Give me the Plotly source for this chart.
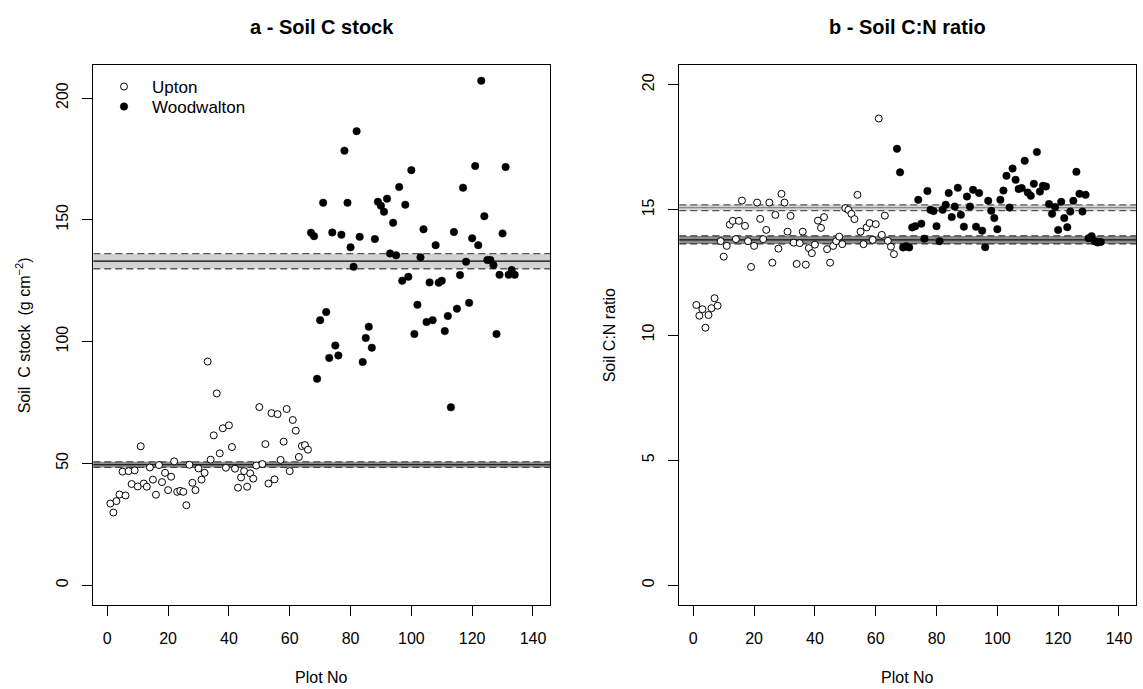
import plotly.graph_objects as go

# ---------------- data ----------------
plot_upton = [1, 2, 3, 4, 5, 6, 7, 8, 9, 10, 11, 12, 13, 14, 15, 16, 17, 18, 19, 20,
              21, 22, 23, 24, 25, 26, 27, 28, 29, 30, 31, 32, 33, 34, 35, 36, 37, 38, 39, 40,
              41, 42, 43, 44, 45, 46, 47, 48, 49, 50, 51, 52, 53, 54, 55, 56, 57, 58, 59, 60,
              61, 62, 63, 64, 65, 66]
plot_wood = [67, 68, 69, 70, 71, 72, 73, 74, 75, 76, 77, 78, 79, 80, 81, 82, 83, 84, 85, 86,
             87, 88, 89, 90, 91, 92, 93, 94, 95, 96, 97, 98, 99, 100, 101, 102, 103, 104, 105, 106,
             107, 108, 109, 110, 111, 112, 113, 114, 115, 116, 117, 118, 119, 120, 121, 122, 123, 124,
             125, 126, 127, 128, 129, 130, 131, 132, 133, 134]

c_stock_upton = [33.5, 29.8, 34.5, 37.2, 46.6, 36.8, 46.8, 41.5, 47.1, 40.5,
                 57.0, 41.7, 40.4, 48.3, 43.3, 37.1, 49.3, 42.3, 46.1, 39.0,
                 44.5, 50.8, 38.3, 38.7, 38.3, 32.8, 49.4, 42.0, 39.0, 47.9,
                 43.3, 46.1, 91.8, 51.5, 61.5, 78.7, 54.1, 64.4, 48.2, 65.6,
                 56.7, 47.8, 40.0, 44.2, 46.8, 40.4, 45.9, 43.7, 49.1, 73.1,
                 49.7, 57.9, 41.7, 70.6, 43.4, 70.2, 51.4, 58.9, 72.3, 46.8,
                 67.8, 63.4, 52.6, 57.1, 57.5, 55.6]
c_stock_wood = [144.7, 143.3, 84.7, 108.8, 157.0, 112.1, 93.3, 144.8, 98.4, 94.3,
                143.9, 178.4, 157.0, 138.7, 130.7, 186.4, 143.0, 91.6, 101.5, 106.1,
                97.5, 142.1, 157.4, 155.8, 153.3, 158.7, 136.2, 148.8, 135.4, 163.5,
                125.0, 156.2, 126.6, 170.4, 103.1, 115.1, 134.6, 146.1, 108.0, 124.3,
                108.8, 139.6, 124.2, 125.0, 104.3, 110.5, 73.0, 145.0, 113.5, 127.3,
                163.2, 132.8, 115.9, 142.4, 172.1, 139.6, 207.1, 151.5, 133.5, 133.5,
                131.4, 103.1, 127.4, 144.4, 171.7, 127.4, 129.4, 127.4]

cn_upton = [11.2, 10.77, 11.03, 10.29, 10.8, 11.07, 11.47, 11.17, 13.75, 13.13,
            13.56, 14.41, 14.56, 13.83, 14.56, 15.37, 14.36, 13.75, 12.72, 13.56,
            15.29, 14.64, 13.83, 14.2, 15.29, 12.89, 14.8, 13.45, 15.64, 15.29,
            14.13, 14.76, 13.69, 12.84, 13.67, 14.13, 12.81, 13.47, 13.27, 13.61,
            14.57, 14.28, 14.71, 13.43, 12.89, 13.56, 13.75, 13.93, 13.63, 15.07,
            15.0, 14.84, 14.63, 15.6, 14.13, 13.63, 14.3, 14.47, 13.8, 14.43,
            18.65, 14.0, 14.77, 13.76, 13.53, 13.23]
cn_wood = [17.44, 16.5, 13.5, 13.55, 13.5, 14.3, 14.35, 15.4, 14.45, 13.85,
           15.75, 15.0, 14.95, 14.35, 13.75, 15.0, 15.2, 15.67, 14.71, 15.13,
           15.88, 14.8, 14.33, 15.53, 15.13, 15.8, 14.33, 15.67, 14.17, 13.51,
           15.36, 14.96, 14.67, 14.23, 15.4, 15.77, 16.36, 15.09, 16.65, 16.2,
           15.83, 15.87, 16.96, 15.69, 15.56, 16.04, 17.31, 15.73, 15.96, 15.93,
           15.23, 14.84, 15.11, 14.2, 15.32, 14.67, 14.31, 14.93, 15.36, 16.52,
           15.64, 14.93, 15.6, 13.87, 13.95, 13.75, 13.7, 13.72]

# mean and confidence limits (low, mean, high)
band_c_upton = [48.3, 49.5, 50.6]
band_c_wood = [129.9, 133.0, 136.1]
band_cn_upton = [13.64, 13.8, 13.96]
band_cn_wood = [14.97, 15.09, 15.2]

x_ticks = [0, 20, 40, 60, 80, 100, 120, 140]
y_ticks_c = [0, 50, 100, 150, 200]
y_ticks_cn = [0, 5, 10, 15, 20]

titles = ["a - Soil C stock", "b - Soil C:N ratio"]
ylabels = ["Soil  C stock  (g cm<sup>\u22122</sup>)", "Soil C:N ratio"]
xlabel = "Plot No"

# ---------------- layout geometry ----------------
W, H = 1143, 689
FONT = "Liberation Sans, Arial, Helvetica, sans-serif"
box_a = (93.3, 550.0)
box_b = (679.3, 1136.0)
box_top, box_bot = 64.7, 605.3
ydom = [1 - box_bot / H, 1 - box_top / H]

fig = go.Figure()

marker_open = dict(symbol="circle", size=7, color="white", line=dict(color="black", width=1))
marker_fill = dict(symbol="circle", size=7.5, color="black", line=dict(color="black", width=0.5))

fig.add_trace(go.Scatter(x=plot_upton, y=c_stock_upton, mode="markers", marker=marker_open,
                         name="Upton", xaxis="x", yaxis="y", showlegend=True, legend="legend"))
fig.add_trace(go.Scatter(x=plot_wood, y=c_stock_wood, mode="markers", marker=marker_fill,
                         name="Woodwalton", xaxis="x", yaxis="y", showlegend=True, legend="legend2"))
fig.add_trace(go.Scatter(x=plot_upton, y=cn_upton, mode="markers", marker=marker_open,
                         name="Upton", xaxis="x2", yaxis="y2", showlegend=False))
fig.add_trace(go.Scatter(x=plot_wood, y=cn_wood, mode="markers", marker=marker_fill,
                         name="Woodwalton", xaxis="x2", yaxis="y2", showlegend=False))

shapes = []


def add_band(xref, yref, band, fill, center_col, dash_col):
    lo, mid, hi = band
    shapes.append(dict(type="rect", xref=xref + " domain", yref=yref, x0=0, x1=1, y0=lo, y1=hi,
                       fillcolor=fill, line=dict(width=0), layer="below"))
    for v in (lo, hi):
        shapes.append(dict(type="line", xref=xref + " domain", yref=yref, x0=0, x1=1, y0=v, y1=v,
                           line=dict(color=dash_col, width=1.3, dash="7px,4px"), layer="below"))
    shapes.append(dict(type="line", xref=xref + " domain", yref=yref, x0=0, x1=1, y0=mid, y1=mid,
                       line=dict(color=center_col, width=1.3), layer="below"))


add_band("x", "y", band_c_upton, "#8c8c8c", "#222222", "#444444")
add_band("x", "y", band_c_wood, "#d3d3d3", "#000000", "#555555")
add_band("x2", "y2", band_cn_upton, "#8c8c8c", "#111111", "#333333")
add_band("x2", "y2", band_cn_wood, "#d3d3d3", "#8a8a8a", "#555555")

axis_common = dict(showgrid=False, zeroline=False, showline=True, mirror=True, linecolor="black",
                   linewidth=1, ticks="outside", ticklen=10, tickwidth=1, tickcolor="black",
                   tickfont=dict(family=FONT, size=16, color="black"))

legend_common = dict(xanchor="left", yanchor="middle", bgcolor="rgba(0,0,0,0)", borderwidth=0,
                     font=dict(family=FONT, size=17, color="black"), itemwidth=46)

fig.update_layout(
    width=W, height=H, autosize=False,
    margin=dict(l=0, r=0, t=0, b=0),
    paper_bgcolor="white", plot_bgcolor="white",
    font=dict(family=FONT, size=16, color="black"),
    xaxis=dict(domain=[box_a[0] / W, box_a[1] / W], range=[-4.6, 145.6], tickvals=x_ticks,
               anchor="y", ticklabelstandoff=8, **axis_common),
    yaxis=dict(domain=ydom, range=[-8.3, 213.7], tickvals=y_ticks_c, tickangle=-90,
               anchor="x", ticklabelstandoff=8, **axis_common),
    xaxis2=dict(domain=[box_b[0] / W, box_b[1] / W], range=[-4.6, 145.6], tickvals=x_ticks,
                anchor="y2", ticklabelstandoff=8, **axis_common),
    yaxis2=dict(domain=ydom, range=[-0.8, 20.8], tickvals=y_ticks_cn, tickangle=-90,
                anchor="x2", ticklabelstandoff=8, **axis_common),
    shapes=shapes,
    showlegend=True,
    legend=dict(x=96 / W, y=1 - 87 / H, **legend_common),
    legend2=dict(x=96 / W, y=1 - 107 / H, **legend_common),
)

ann = []
for i, (x0, x1) in enumerate([box_a, box_b]):
    ann.append(dict(text="<b>" + titles[i] + "</b>", x=(x0 + x1) / 2 / W, y=1 - 26.7 / H,
                    xref="paper", yref="paper", showarrow=False, xanchor="center", yanchor="middle",
                    font=dict(family=FONT, size=20, color="black")))
    ann.append(dict(text=xlabel, x=(x0 + x1) / 2 / W, y=1 - 677 / H, xref="paper", yref="paper",
                    showarrow=False, xanchor="center", yanchor="middle",
                    font=dict(family=FONT, size=16, color="black")))
    ann.append(dict(text=ylabels[i], x=(x0 - 70) / W, y=1 - (box_top + box_bot) / 2 / H,
                    xref="paper", yref="paper", showarrow=False, xanchor="center", yanchor="middle",
                    textangle=-90, font=dict(family=FONT, size=16, color="black")))
fig.update_layout(annotations=ann)

fig.write_html("out.html")
